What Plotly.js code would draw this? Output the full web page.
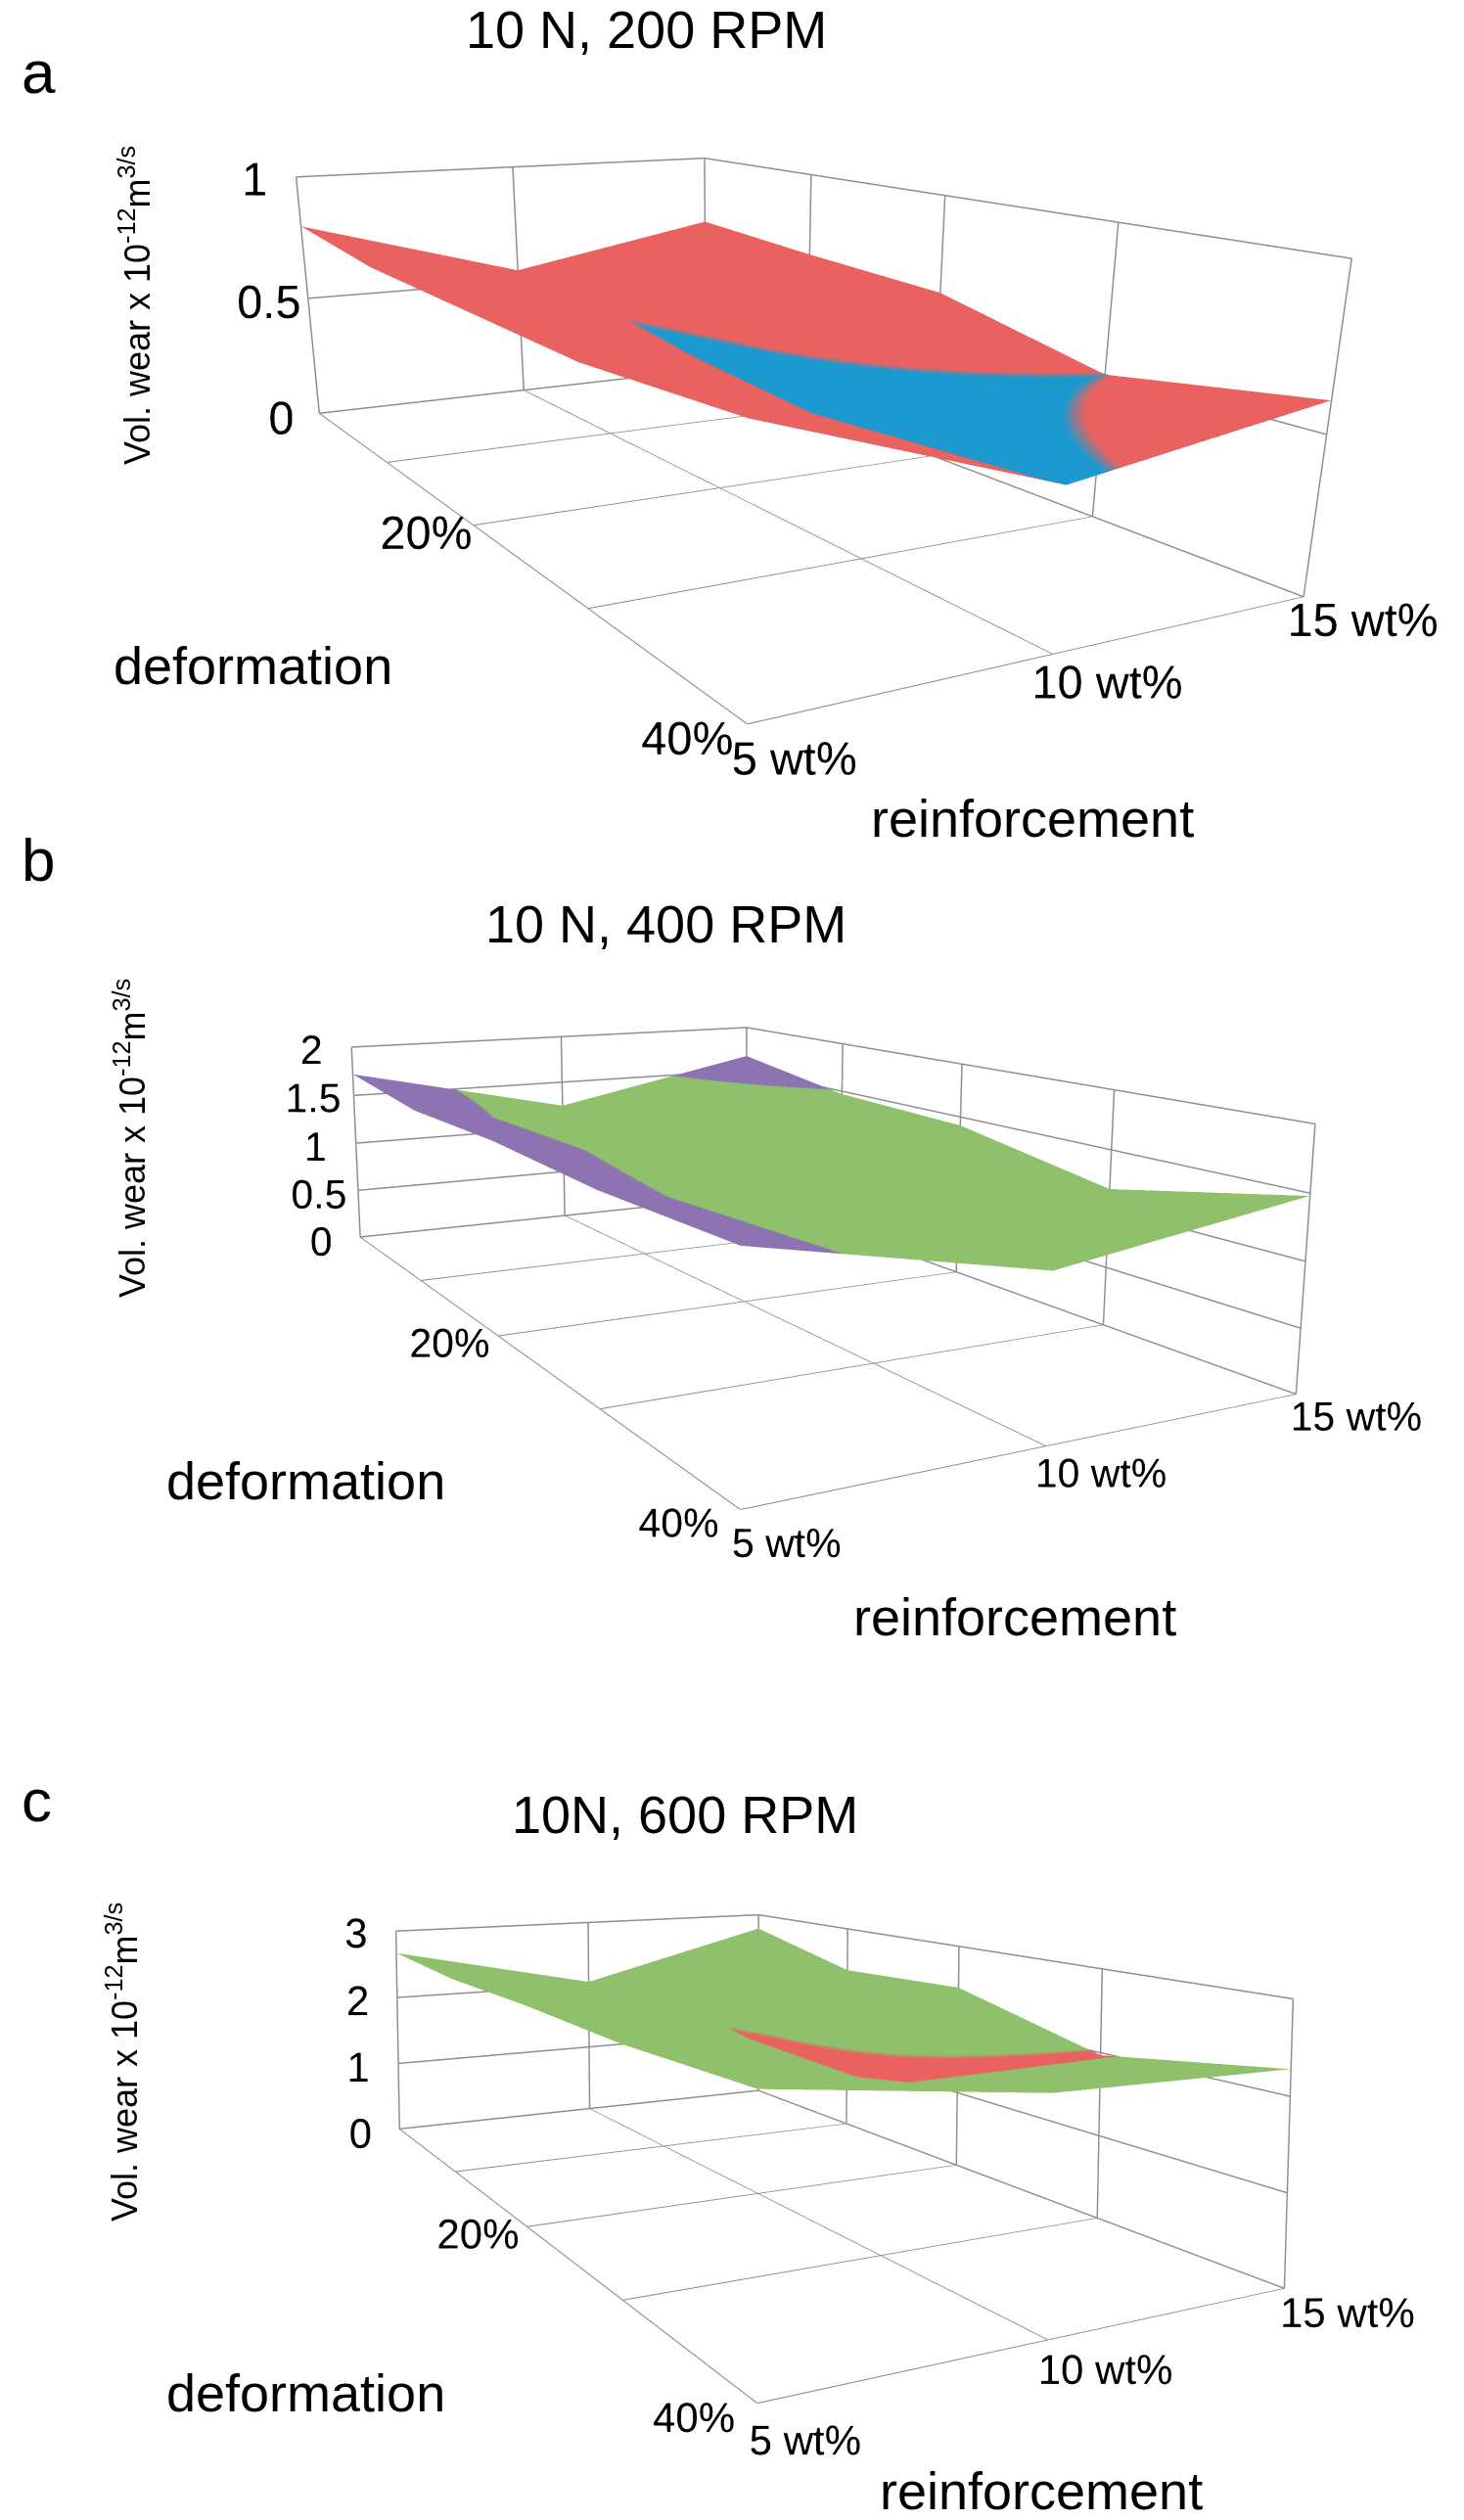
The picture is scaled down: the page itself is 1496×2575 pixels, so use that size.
<!DOCTYPE html>
<html>
<head>
<meta charset="utf-8">
<script src="https://cdn.plot.ly/plotly-3.0.1.min.js"></script>
<style>
html,body{margin:0;padding:0;background:#ffffff;}
#chart{width:1496px;height:2575px;}
</style>
</head>
<body>
<div id="chart"></div>
<script>
// ---------- data ----------
const deformation = [0, 10, 20, 30, 40];
const deformationLabels = ['\u200b', '\u200b', '20%', '\u200b', '40%'];
const reinforcement = [5, 10, 15];
const reinforcementLabels = ['5 wt%', '10 wt%', '15 wt%'];

// Vol. wear (x10^-12 m^3/s): rows = reinforcement (5,10,15 wt%), columns = deformation
const wear_10N_200rpm = [
  [0.80, 0.75, 0.74, 0.73, 0.77],
  [0.55, 0.51, 0.47, 0.44, 0.48],
  [0.71, 0.67, 0.64, 0.50, 0.60]
];
const wear_10N_400rpm = [
  [1.72, 1.61, 1.63, 1.59, 1.62],
  [1.24, 1.25, 1.23, 1.17, 1.20],
  [1.67, 1.47, 1.42, 1.17, 1.48]
];
const wear_10N_600rpm = [
  [2.67, 2.60, 2.62, 2.60, 2.66],
  [2.05, 2.08, 1.97, 1.94, 2.33],
  [2.77, 2.37, 2.44, 1.97, 2.28]
];
const panelTitles = ['10 N, 200 RPM', '10 N, 400 RPM', '10N, 600 RPM'];
const panelLetters = ['a', 'b', 'c'];
const zMax = [1, 2, 3];
const zStep = [0.5, 0.5, 1];
const zTitle = 'Vol. wear x 10<sup>-12</sup>m<sup>3/s</sup>';
const xTitle = 'deformation';
const yTitle = 'reinforcement';

// ---------- style / layout ----------
const W = 1496, Hpage = 2575;
const bandColors = ['#1C9AD0', '#E9625F', '#8FC06B', '#8D73B1'];
const FONT = 'Liberation Sans, Arial, Helvetica, sans-serif';

function bandScale() {
  const n = bandColors.length, cs = [];
  bandColors.forEach((c, i) => { cs.push([i / n, c]); cs.push([(i + 1) / n, c]); });
  return cs;
}
// gl3d tick text grows with the square of the requested size (12 -> 12px)
function glTickSize(px) { return Math.sqrt(12 * px); }

// eye placed relative to the box centre; the look direction is tilted so the box
// lands at the wanted place inside its scene domain
const eyeDist = 2.25;
const eyeElev = 11.1 * Math.PI / 180;
const eyeAzim = -28.6 * Math.PI / 180;
const eyePos = [
  eyeDist * Math.cos(eyeElev) * Math.cos(eyeAzim),
  eyeDist * Math.cos(eyeElev) * Math.sin(eyeAzim),
  eyeDist * Math.sin(eyeElev)
];
function camera(H, dx, dy) {
  const f = H / (2 * Math.tan(Math.PI / 8));
  const azT = eyeAzim + Math.PI, elT = -eyeElev;
  const elW = elT - Math.atan(dy / f);
  const azW = azT + Math.atan(dx / f);
  const w = [Math.cos(elW) * Math.cos(azW), Math.cos(elW) * Math.sin(azW), Math.sin(elW)];
  return {
    eye: {x: eyePos[0], y: eyePos[1], z: eyePos[2]},
    center: {x: eyePos[0] + eyeDist * w[0], y: eyePos[1] + eyeDist * w[1], z: eyePos[2] + eyeDist * w[2]},
    up: {x: 0, y: 0, z: 1},
    projection: {type: 'perspective'}
  };
}

const panels = [
  {data: wear_10N_200rpm, H: 1361, boxCx: 735, boxCy: 361, asp: {x: 1.46, y: 0.738, z: 0.382}, tick: 47,
   letter: [20, 74], title: [660, 30], xt: [258, 680], yt: [1055, 836], zt: [138, 312]},
  {data: wear_10N_400rpm, H: 1357, boxCx: 761, boxCy: 1217, asp: {x: 1.339, y: 0.738, z: 0.319}, tick: 41,
   letter: [20, 879], title: [680, 944], xt: [312, 1513], yt: [1037, 1652], zt: [133, 1163]},
  {data: wear_10N_600rpm, H: 1254, boxCx: 775, boxCy: 2122, asp: {x: 1.352, y: 0.738, z: 0.359}, tick: 42,
   letter: [20, 1839], title: [700, 1854], xt: [312, 2445], yt: [1064, 2545], zt: [125, 2107]}
];

const traces = [];
const layout = {
  width: W, height: Hpage,
  margin: {l: 0, r: 0, t: 0, b: 0},
  paper_bgcolor: '#ffffff',
  showlegend: false,
  font: {family: FONT, color: '#000000'},
  annotations: []
};

panels.forEach((p, k) => {
  const sid = k === 0 ? 'scene' : 'scene' + (k + 1);
  const top = Math.max(0, Math.min(Hpage - p.H, p.boxCy - p.H / 2));
  const bot = top + p.H;
  traces.push({
    type: 'surface',
    scene: sid,
    x: deformation,
    y: reinforcement,
    z: p.data,
    surfacecolor: p.data,
    cmin: 0, cmax: zStep[k] * bandColors.length,
    colorscale: bandScale(),
    showscale: false,
    hoverinfo: 'skip',
    lighting: {ambient: 0.88, diffuse: 0.18, specular: 0.0, roughness: 1, fresnel: 0},
    lightposition: {x: 0, y: 100000, z: 100000},
    contours: {x: {highlight: false}, y: {highlight: false}, z: {highlight: false}}
  });
  const axBase = {
    showbackground: false,
    gridcolor: '#8E8E8E',
    gridwidth: 3,
    showline: false,
    zeroline: false,
    showspikes: false,
    ticks: 'outside',
    tickcolor: '#ffffff',
    tickwidth: 1,
    tickangle: 0,
    title: {text: ''},
    tickfont: {family: FONT, size: glTickSize(p.tick), color: '#000000'}
  };
  layout[sid] = {
    domain: {x: [0, 1], y: [Math.max(0, 1 - bot / Hpage), Math.min(1, 1 - top / Hpage)]},
    aspectmode: 'manual',
    aspectratio: p.asp,
    bgcolor: 'rgba(0,0,0,0)',
    xaxis: Object.assign({}, axBase, {range: [deformation[0], deformation[deformation.length - 1]],
      tickmode: 'array', tickvals: deformation, ticktext: deformationLabels, ticklen: 35}),
    yaxis: Object.assign({}, axBase, {range: [reinforcement[0], reinforcement[reinforcement.length - 1]],
      tickmode: 'array', tickvals: reinforcement, ticktext: reinforcementLabels, ticklen: 22}),
    zaxis: Object.assign({}, axBase, {range: [0, zMax[k]], tickmode: 'linear', tick0: 0, dtick: zStep[k], ticklen: 30}),
    camera: camera(p.H, p.boxCx - W / 2, (top + p.H / 2) - p.boxCy)
  };
  const ann = (xy, text, size, extra) => Object.assign({
    x: xy[0] / W, y: 1 - xy[1] / Hpage, xref: 'paper', yref: 'paper',
    text: text, showarrow: false, xanchor: 'center', yanchor: 'middle',
    font: {family: FONT, size: size, color: '#000000'}
  }, extra || {});
  layout.annotations.push(ann(p.letter, panelLetters[k], 62, {xanchor: 'left'}));
  layout.annotations.push(ann(p.title, panelTitles[k], 54));
  layout.annotations.push(ann(p.xt, xTitle, 54));
  layout.annotations.push(ann(p.yt, yTitle, 54));
  layout.annotations.push(ann(p.zt, zTitle, 36, {textangle: -90}));
});

Plotly.newPlot('chart', traces, layout, {displayModeBar: false});
</script>
</body>
</html>
